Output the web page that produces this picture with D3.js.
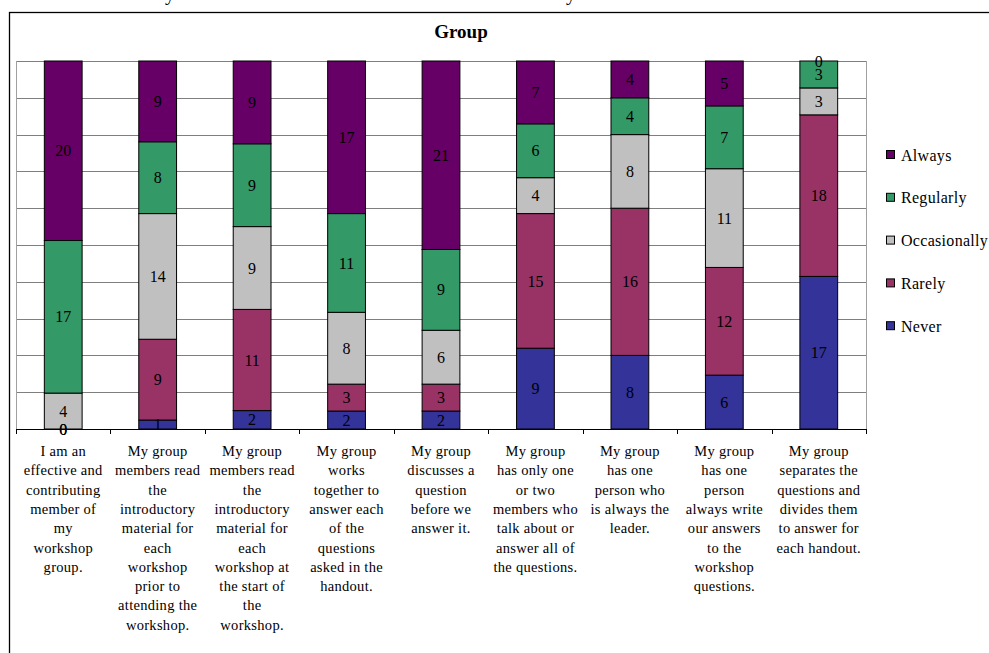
<!DOCTYPE html>
<html>
<head>
<meta charset="utf-8">
<script src="https://cdn.jsdelivr.net/npm/d3@7"></script>
<style>
  body { margin: 0; background: #fff; }
  text { font-family: "Liberation Serif", "Times New Roman", serif; }
</style>
</head>
<body>
<div id="chart"></div>
<script>
// data
var categories = [
  ["I am an", "effective and", "contributing", "member of", "my", "workshop", "group."],
  ["My group", "members read", "the", "introductory", "material for", "each", "workshop", "prior to", "attending the", "workshop."],
  ["My group", "members read", "the", "introductory", "material for", "each", "workshop at", "the start of", "the", "workshop."],
  ["My group", "works", "together to", "answer each", "of the", "questions", "asked in the", "handout."],
  ["My group", "discusses a", "question", "before we", "answer it."],
  ["My group", "has only one", "or two", "members who", "talk about or", "answer all of", "the questions."],
  ["My group", "has one", "person who", "is always the", "leader."],
  ["My group", "has one", "person", "always write", "our answers", "to the", "workshop", "questions."],
  ["My group", "separates the", "questions and", "divides them", "to answer for", "each handout."]
];
var seriesNames = ["Never", "Rarely", "Occasionally", "Regularly", "Always"];
var seriesColors = ["#333399", "#993366", "#c0c0c0", "#339966", "#660066"];
var never        = [0, 1, 2, 2, 2, 9, 8, 6, 17];
var rarely       = [0, 9, 11, 3, 3, 15, 16, 12, 18];
var occasionally = [4, 14, 9, 8, 6, 4, 8, 11, 3];
var regularly    = [17, 8, 9, 11, 9, 6, 4, 7, 3];
var always       = [20, 9, 9, 17, 21, 7, 4, 5, 0];
var yTicks = d3.range(0, 1.0001, 0.1);

var rows = categories.map(function(c, i) {
  return { idx: i, Never: never[i], Rarely: rarely[i], Occasionally: occasionally[i],
           Regularly: regularly[i], Always: always[i] };
});

var width = 989, height = 653;
var plot = {left: 16, top: 61, right: 866, bottom: 429};

var svg = d3.select("#chart").append("svg")
    .attr("width", width)
    .attr("height", height);

// clipped text from the page above the chart
svg.append("text").attr("x", 165).attr("y", 0).attr("font-size", 20).text("y");
svg.append("text").attr("x", 566).attr("y", 0).attr("font-size", 20).text("y");

// outer chart frame (runs off the page right/bottom)
svg.append("rect")
    .attr("x", 9.5).attr("y", 12.5)
    .attr("width", 1000).attr("height", 700)
    .attr("fill", "#fff")
    .attr("stroke", "#000")
    .attr("stroke-width", 1.3);

svg.append("text")
    .attr("x", 461).attr("y", 38)
    .attr("text-anchor", "middle")
    .attr("font-size", 19)
    .attr("font-weight", "bold")
    .text("Group");

var x = d3.scaleBand()
    .domain(d3.range(categories.length))
    .range([plot.left, plot.right])
    .paddingInner(0.6)
    .paddingOuter(0.3);

var xEdges = d3.scaleLinear()
    .domain([0, categories.length])
    .range([plot.left, plot.right]);

var y = d3.scaleLinear()
    .domain([0, 1])
    .range([plot.bottom, plot.top]);

// gridlines
svg.append("g")
    .selectAll("line")
    .data(yTicks)
    .join("line")
    .attr("x1", plot.left).attr("x2", plot.right)
    .attr("y1", function(d) { return Math.round(y(d)) + 0.5; })
    .attr("y2", function(d) { return Math.round(y(d)) + 0.5; })
    .attr("stroke", "#7f7f7f")
    .attr("stroke-width", 1);

// plot area sides
svg.append("line")
    .attr("x1", plot.left + 0.5).attr("x2", plot.left + 0.5)
    .attr("y1", plot.top).attr("y2", plot.bottom)
    .attr("stroke", "#a0a0a0");
svg.append("line")
    .attr("x1", plot.right + 0.5).attr("x2", plot.right + 0.5)
    .attr("y1", plot.top).attr("y2", plot.bottom)
    .attr("stroke", "#a0a0a0");

var stack = d3.stack()
    .keys(seriesNames)
    .offset(d3.stackOffsetExpand);
var layers = stack(rows);

var layer = svg.append("g")
    .selectAll("g")
    .data(layers)
    .join("g")
    .attr("fill", function(d, i) { return seriesColors[i]; });

layer.selectAll("rect")
    .data(function(d) { return d; })
    .join("rect")
    .attr("x", function(d) { return x(d.data.idx); })
    .attr("width", x.bandwidth())
    .attr("y", function(d) { return y(d[1]); })
    .attr("height", function(d) { return y(d[0]) - y(d[1]); })
    .attr("stroke", "#000")
    .attr("stroke-width", 1);

// value labels
layers.forEach(function(l) {
  svg.append("g")
    .selectAll("text")
    .data(l)
    .join("text")
    .attr("x", function(d) { return x(d.data.idx) + x.bandwidth() / 2; })
    .attr("y", function(d) { return y((d[0] + d[1]) / 2); })
    .attr("dy", "0.35em")
    .attr("text-anchor", "middle")
    .attr("font-size", 16)
    .attr("fill", "#000")
    .text(function(d) { return d.data[l.key]; });
});

// x axis
svg.append("line")
    .attr("x1", plot.left).attr("x2", plot.right + 1)
    .attr("y1", plot.bottom + 0.5).attr("y2", plot.bottom + 0.5)
    .attr("stroke", "#000");
svg.append("g")
    .selectAll("line")
    .data(d3.range(categories.length + 1))
    .join("line")
    .attr("x1", function(d) { return Math.round(xEdges(d)) + 0.5; })
    .attr("x2", function(d) { return Math.round(xEdges(d)) + 0.5; })
    .attr("y1", plot.bottom).attr("y2", plot.bottom + 5)
    .attr("stroke", "#000");

// category labels
var catG = svg.append("g")
    .selectAll("text")
    .data(categories)
    .join("text")
    .attr("text-anchor", "middle")
    .attr("font-size", 14.5)
    .attr("letter-spacing", 0.3)
    .attr("fill", "#000");
catG.selectAll("tspan")
    .data(function(d, i) { return d.map(function(s) { return {s: s, i: i}; }); })
    .join("tspan")
    .attr("x", function(d) { return x(d.i) + x.bandwidth() / 2; })
    .attr("y", function(d, j) { return 456 + j * 19.3; })
    .text(function(d) { return d.s; });

// legend
var legendOrder = seriesNames.slice().reverse();
var legend = svg.append("g")
    .selectAll("g")
    .data(legendOrder)
    .join("g")
    .attr("transform", function(d, i) { return "translate(886," + (155 + i * 42.8) + ")"; });
legend.append("rect")
    .attr("x", 0.5).attr("y", -4.5)
    .attr("width", 8).attr("height", 8)
    .attr("fill", function(d) { return seriesColors[seriesNames.indexOf(d)]; })
    .attr("stroke", "#000");
legend.append("text")
    .attr("x", 15).attr("y", 0)
    .attr("dy", "0.35em")
    .attr("font-size", 16)
    .attr("letter-spacing", 0.3)
    .text(function(d) { return d; });
</script>
</body>
</html>
